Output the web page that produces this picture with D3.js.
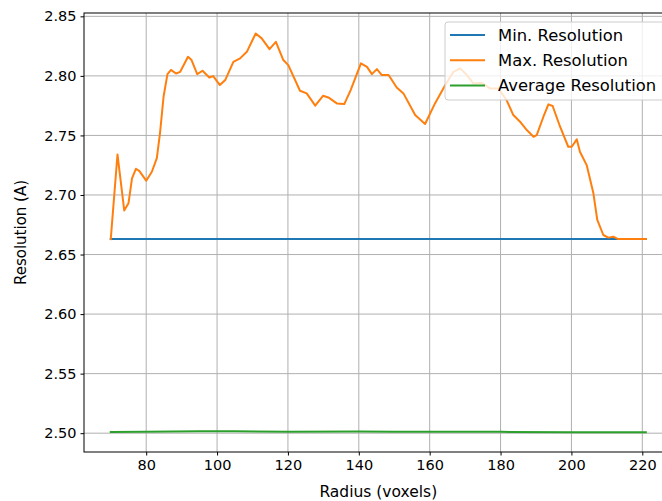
<!DOCTYPE html>
<html><head><meta charset="utf-8">
<script src="https://cdn.jsdelivr.net/npm/d3@7"></script>
<style>body{margin:0;background:#fff}svg{display:block;font-family:"DejaVu Sans",sans-serif}</style>
</head><body><svg id="c" width="662" height="501"></svg>
<script>
const seriesNames = ["Min. Resolution", "Max. Resolution", "Average Resolution"];
const colors = ["#1f77b4", "#ff7f0e", "#2ca02c"];
const xTicks = [80, 100, 120, 140, 160, 180, 200, 220];
const yTicks = [2.50, 2.55, 2.60, 2.65, 2.70, 2.75, 2.80, 2.85];

const minRadius = [70, 221];
const minValues = [2.663, 2.663];

const maxRadius = [70, 71.9, 73.8, 75, 76, 77.1, 78.1, 80, 81.6, 83, 83.9, 84.9, 86, 87, 88.4, 89.6, 91.8, 92.8, 94.4, 95.9, 97.8, 98.9, 100.8, 102.3, 104.6, 106.5, 108.4, 110.9, 112.6, 114.8, 116.6, 118.7, 120.1, 123.4, 125.3, 127.7, 129.9, 131.4, 133.8, 135.9, 137.7, 140.6, 142.3, 143.7, 145.1, 146.5, 148.4, 150.7, 152.6, 155.9, 158.7, 161.5, 164.4, 166.7, 168.6, 170.5, 172.3, 174.7, 177, 179.4, 181.7, 183.6, 185.5, 187.4, 189.3, 190.2, 192.1, 193.5, 194.7, 196.8, 199.1, 200.1, 201.5, 202.4, 204.3, 206.2, 207.3, 209, 210.4, 211.8, 213.2, 221];
const maxValues = [2.663, 2.734, 2.687, 2.693, 2.714, 2.722, 2.720, 2.712, 2.7195, 2.731, 2.752, 2.7825, 2.8015, 2.805, 2.802, 2.8034, 2.816, 2.8133, 2.8015, 2.8043, 2.7987, 2.7998, 2.7923, 2.7965, 2.8118, 2.8147, 2.8202, 2.8356, 2.8315, 2.8225, 2.8286, 2.8133, 2.809, 2.7875, 2.7853, 2.775, 2.7833, 2.7819, 2.7769, 2.7763, 2.7881, 2.8105, 2.8076, 2.8015, 2.8057, 2.8007, 2.8007, 2.7903, 2.7853, 2.7671, 2.7596, 2.7769, 2.7923, 2.8034, 2.8063, 2.8007, 2.7937, 2.7942, 2.7895, 2.7895, 2.7797, 2.7671, 2.7615, 2.7545, 2.7489, 2.7503, 2.7657, 2.7761, 2.7747, 2.7573, 2.7405, 2.7405, 2.7467, 2.7363, 2.7251, 2.7014, 2.679, 2.6664, 2.6642, 2.665, 2.663, 2.663];

const avgRadius = [70, 80, 95, 105, 120, 140, 150, 160, 180, 200, 221];
const avgValues = [2.5010, 2.5011, 2.5017, 2.5016, 2.5012, 2.5014, 2.5011, 2.5012, 2.5011, 2.5008, 2.5008];

const svg = d3.select("#c");
const x = d3.scaleLinear().domain([62.45, 228.55]).range([84, 672.6]);
const y = d3.scaleLinear().domain([2.4842, 2.8528]).range([452, 13]);
const L = x.range()[0], R = x.range()[1], T = y.range()[1], B = y.range()[0];

// grid
svg.append("g").selectAll("line").data(xTicks).join("line")
  .attr("x1", d => x(d)).attr("x2", d => x(d)).attr("y1", T).attr("y2", B)
  .attr("stroke", "#b0b0b0").attr("stroke-width", 1);
svg.append("g").selectAll("line").data(yTicks).join("line")
  .attr("y1", d => y(d)).attr("y2", d => y(d)).attr("x1", L).attr("x2", R)
  .attr("stroke", "#b0b0b0").attr("stroke-width", 1);

const line = d3.line().x(d => x(d[0])).y(d => y(d[1]));
const data = [
  d3.zip(minRadius, minValues),
  d3.zip(maxRadius, maxValues),
  d3.zip(avgRadius, avgValues)
];
data.forEach((d, i) => {
  svg.append("path").datum(d).attr("d", line).attr("fill", "none")
    .attr("stroke", colors[i]).attr("stroke-width", 2)
    .attr("stroke-linejoin", "round").attr("stroke-linecap", "square");
});

// axes
const xAxis = svg.append("g").attr("transform", `translate(0,${B})`)
  .call(d3.axisBottom(x).tickValues(xTicks).tickFormat(d3.format("d")).tickSize(3.5).tickPadding(4));
const yAxis = svg.append("g").attr("transform", `translate(${L},0)`)
  .call(d3.axisLeft(y).tickValues(yTicks).tickFormat(d3.format(".2f")).tickSize(3.5).tickPadding(4));
[xAxis, yAxis].forEach(g => {
  g.select(".domain").remove();
  g.selectAll("line").attr("stroke", "#000").attr("stroke-width", 1);
  g.selectAll("text").attr("fill", "#000").style("font-size", "14.5px").style("font-family", "DejaVu Sans");
});
svg.append("rect").attr("x", L).attr("y", T).attr("width", R - L).attr("height", B - T)
  .attr("fill", "none").attr("stroke", "#000").attr("stroke-width", 1);

svg.append("text").attr("x", (L + R) / 2).attr("y", 497).attr("text-anchor", "middle")
  .style("font-size", "15.5px").text("Radius (voxels)");
svg.append("text").attr("transform", `translate(26,${(T + B) / 2}) rotate(-90)`)
  .attr("text-anchor", "middle").style("font-size", "15px").text("Resolution (A)");

// legend
const lg = svg.append("g");
lg.append("rect").attr("x", 445).attr("y", 22).attr("width", 222).attr("height", 78)
  .attr("rx", 3).attr("fill", "#fff").attr("fill-opacity", 0.8).attr("stroke", "#cccccc").attr("stroke-width", 1);
seriesNames.forEach((n, i) => {
  const yy = 35 + i * 25.3;
  lg.append("line").attr("x1", 450).attr("x2", 485).attr("y1", yy).attr("y2", yy)
    .attr("stroke", colors[i]).attr("stroke-width", 2);
  lg.append("text").attr("x", 498).attr("y", yy + 5.5).style("font-size", "16.4px").text(n);
});
</script></body></html>
